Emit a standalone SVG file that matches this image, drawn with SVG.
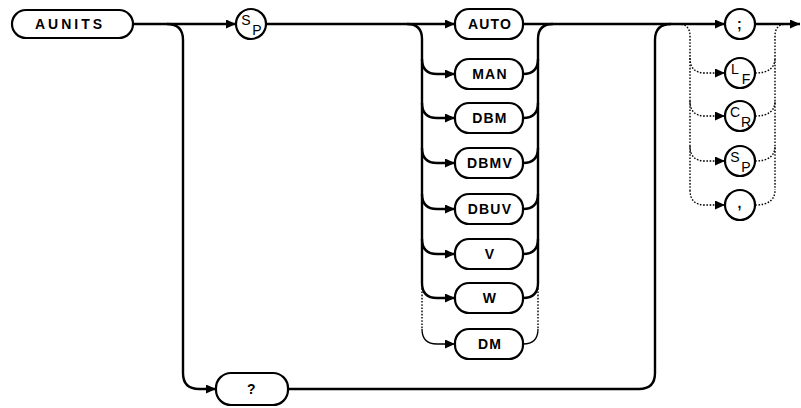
<svg xmlns="http://www.w3.org/2000/svg" width="801" height="408" viewBox="0 0 801 408">
<defs>
<marker id="ah" markerUnits="userSpaceOnUse" markerWidth="11" markerHeight="9" refX="10" refY="4.5" orient="auto">
<path d="M0,0 L10,4.5 L0,9 z" fill="#000"/>
</marker>
<style>
.box{fill:#fff;stroke:#000;stroke-width:2.2}
.lbl{font-family:"Liberation Sans",Arial,sans-serif;font-size:14px;font-weight:bold;letter-spacing:1.2px;text-anchor:middle;dominant-baseline:central;fill:#000}
.sym{font-family:"Liberation Sans",Arial,sans-serif;font-size:14px;text-anchor:middle;dominant-baseline:central;fill:#000}
.ln{fill:none;stroke:#000;stroke-width:2.4}
.thin{fill:none;stroke:#000;stroke-width:1.3}
.dot{fill:none;stroke:#000;stroke-width:1.4;stroke-dasharray:1.6 1.6}
.arr{marker-end:url(#ah)}
</style>
</defs>
<rect width="801" height="408" fill="#fff"/>
<g id="connectors">
<path class="ln arr" d="M133,24 H236"/>
<path class="ln arr" d="M266,24 H455"/>
<path class="ln arr" d="M523,24 H725"/>
<path class="ln arr" d="M755,24 H800"/>
<path class="ln arr" d="M167,24 Q183,24 183,40 V373 Q183,389 199,389 H216"/>
<path class="ln" d="M288,389 H639 Q655,389 655,373 V40 Q655,24 671,24"/>
<path class="ln" d="M407,24 Q422,24 422,39 V283"/>
<path class="ln" d="M553,24 Q538,24 538,39 V283"/>
<path class="ln arr" d="M422,59 Q422,74 437,74 H455"/>
<path class="ln" d="M523,74 Q538,74 538,59"/>
<path class="ln arr" d="M422,103 Q422,118 437,118 H455"/>
<path class="ln" d="M523,118 Q538,118 538,103"/>
<path class="ln arr" d="M422,148 Q422,163 437,163 H455"/>
<path class="ln" d="M523,163 Q538,163 538,148"/>
<path class="ln arr" d="M422,194 Q422,209 437,209 H455"/>
<path class="ln" d="M523,209 Q538,209 538,194"/>
<path class="ln arr" d="M422,239 Q422,254 437,254 H455"/>
<path class="ln" d="M523,254 Q538,254 538,239"/>
<path class="ln arr" d="M422,283 Q422,298 437,298 H455"/>
<path class="ln" d="M523,298 Q538,298 538,283"/>
<path class="dot" d="M422,285 V329"/>
<path class="dot" d="M538,285 V329"/>
<path class="thin arr" d="M422,329 Q422,344 437,344 H455"/>
<path class="thin" d="M523,344 Q538,344 538,329"/>
<path class="dot" d="M678,24 Q690,24 690,36 V190"/>
<path class="dot" d="M787,24 Q775,24 775,36 V190"/>
<path class="dot arr" d="M690,58 Q690,73 705,73 H725"/>
<path class="dot" d="M755,73 Q775,73 775,58"/>
<path class="dot arr" d="M690,101 Q690,116 705,116 H725"/>
<path class="dot" d="M755,116 Q775,116 775,101"/>
<path class="dot arr" d="M690,146 Q690,161 705,161 H725"/>
<path class="dot" d="M755,161 Q775,161 775,146"/>
<path class="dot arr" d="M690,190 Q690,205 705,205 H725"/>
<path class="dot" d="M755,205 Q775,205 775,190"/>
</g>
<g id="n-aunits"><rect class="box" x="12" y="10" width="121" height="28" rx="14"/><text class="lbl" x="70" y="24" style="letter-spacing:3px">AUNITS</text></g>
<g id="n-sp1"><circle class="box" cx="251" cy="24" r="15"/><text class="sym" x="246" y="20">S</text><text class="sym" x="257" y="30">P</text></g>
<g id="n-auto"><rect class="box" x="455" y="9" width="68" height="30" rx="14"/><text class="lbl" x="490" y="24">AUTO</text></g>
<g id="n-man"><rect class="box" x="455" y="59" width="68" height="30" rx="14"/><text class="lbl" x="490" y="74">MAN</text></g>
<g id="n-dbm"><rect class="box" x="455" y="103" width="68" height="30" rx="14"/><text class="lbl" x="490" y="118">DBM</text></g>
<g id="n-dbmv"><rect class="box" x="455" y="148" width="68" height="30" rx="14"/><text class="lbl" x="490" y="163">DBMV</text></g>
<g id="n-dbuv"><rect class="box" x="455" y="194" width="68" height="30" rx="14"/><text class="lbl" x="490" y="209">DBUV</text></g>
<g id="n-v"><rect class="box" x="455" y="239" width="68" height="30" rx="14"/><text class="lbl" x="490" y="254">V</text></g>
<g id="n-w"><rect class="box" x="455" y="283" width="68" height="30" rx="14"/><text class="lbl" x="490" y="298">W</text></g>
<g id="n-dm"><rect class="box" x="455" y="329" width="68" height="30" rx="14"/><text class="lbl" x="490" y="344">DM</text></g>
<g id="n-query"><rect class="box" x="216" y="373" width="72" height="32" rx="15"/><text class="lbl" x="252" y="389">?</text></g>
<g id="n-semi"><circle class="box" cx="740" cy="24" r="15"/><text class="lbl" x="740" y="24">;</text></g>
<g id="n-lf"><circle class="box" cx="740" cy="73" r="15"/><text class="sym" x="735" y="69">L</text><text class="sym" x="746" y="79">F</text></g>
<g id="n-cr"><circle class="box" cx="740" cy="116" r="15"/><text class="sym" x="735" y="112">C</text><text class="sym" x="746" y="122">R</text></g>
<g id="n-sp2"><circle class="box" cx="740" cy="161" r="15"/><text class="sym" x="735" y="157">S</text><text class="sym" x="746" y="167">P</text></g>
<g id="n-comma"><circle class="box" cx="740" cy="205" r="15"/><text class="lbl" x="740" y="203">,</text></g>
</svg>
